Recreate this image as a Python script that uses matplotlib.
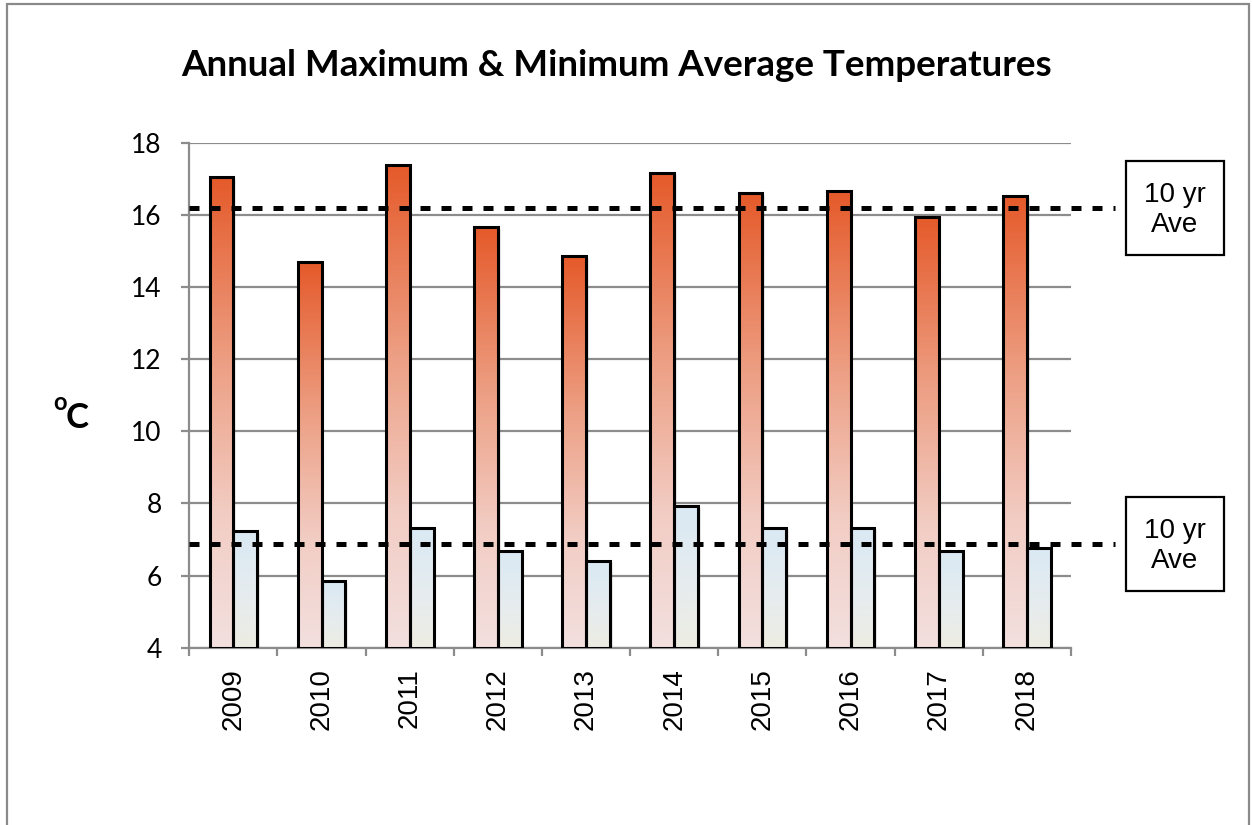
import numpy as np
import matplotlib
matplotlib.use("Agg")
import matplotlib.pyplot as plt
from matplotlib.colors import LinearSegmentedColormap
from matplotlib.patches import Rectangle

# data
years = ["2009", "2010", "2011", "2012", "2013", "2014", "2015", "2016", "2017", "2018"]
max_temp = [17.05, 14.7, 17.38, 15.65, 14.85, 17.15, 16.6, 16.67, 15.95, 16.52]
min_temp = [7.23, 5.84, 7.31, 6.69, 6.4, 7.93, 7.31, 7.31, 6.69, 6.76]
ave_max = 16.2
ave_min = 6.88
yticks = [4, 6, 8, 10, 12, 14, 16, 18]

W, H = 1252, 825
fig = plt.figure(figsize=(W / 100, H / 100), dpi=100)
ax = fig.add_axes([189.3 / W, 1 - 647.7 / H, (1071 - 189.3) / W, (647.7 - 142.7) / H])

# outer gray frame
fig.patches.append(Rectangle((7 / W, -0.05), (1249 - 7) / W, 1.05 - 4 / H,
                             transform=fig.transFigure, fill=False,
                             edgecolor="#8a8a8a", lw=1.6))

cmap_max = LinearSegmentedColormap.from_list(
    "mx", [(0, "#e55a2a"), (0.4, "#eda085"), (0.72, "#f2cdc4"), (1, "#f2e0df")])
cmap_min = LinearSegmentedColormap.from_list(
    "mn", [(0, "#dae9f4"), (0.55, "#e6ecef"), (1, "#edece2")])
grad = np.linspace(0, 1, 256).reshape(-1, 1)

x = np.arange(len(years))
bw = 0.27
bottom = yticks[0]

for xi, hi, lo in zip(x, max_temp, min_temp):
    for x0, h, cm in ((xi - bw, hi, cmap_max), (xi, lo, cmap_min)):
        # soft shadow
        ax.add_patch(Rectangle((x0 + 0.03, bottom), bw, h - bottom - 0.05,
                               facecolor="#000000", alpha=0.08, lw=0, zorder=2))
        # row 0 (darkest) at the top of the bar
        ax.imshow(grad, cmap=cm, extent=[x0, x0 + bw, bottom, h],
                  aspect="auto", zorder=3, interpolation="bilinear")
        ax.add_patch(Rectangle((x0, bottom), bw, h - bottom, fill=False,
                               edgecolor="black", lw=2.2, zorder=4))

ax.set_xlim(-0.5, len(years) - 0.5)
ax.set_ylim(yticks[0], yticks[-1])

# 10 year average lines + boxes
for ave in (ave_max, ave_min):
    ax.plot([-0.5, 10.0], [ave, ave], color="black", lw=3.6,
            dashes=(2.0, 2.2), clip_on=False, zorder=5, dash_capstyle="butt")
    ax.add_patch(Rectangle((10.12, ave - 1.3), 1.11, 2.6, fill=False,
                           edgecolor="black", lw=1.6, clip_on=False))
    ax.text(10.675, ave - 0.07, "10 yr\nAve", ha="center", va="center",
            fontsize=20, family="Liberation Sans", linespacing=1.2,
            clip_on=False)

# axes styling
ax.set_yticks(yticks)
ax.yaxis.grid(True, color="#8c8c8c", lw=1.6)
ax.set_axisbelow(True)
for s in ("top", "right"):
    ax.spines[s].set_visible(False)
for s in ("left", "bottom"):
    ax.spines[s].set_color("#8c8c8c")
    ax.spines[s].set_linewidth(1.6)

ax.set_xticks(x)
ax.set_xticklabels(years, rotation=90, family="Liberation Sans", fontsize=20)
ax.set_xticks(np.arange(-0.5, len(years)), minor=True)
ax.tick_params(axis="x", which="major", length=0, pad=15)
ax.tick_params(axis="x", which="minor", length=5.5, width=1.6, color="#8c8c8c")
ax.tick_params(axis="y", length=5.8, width=1.6, color="#8c8c8c", pad=14,
               labelsize=19)
for t in ax.get_yticklabels():
    t.set_family("Lato")

fig.text(617 / W, 1 - 76 / H, "Annual Maximum & Minimum Average Temperatures",
         ha="center", va="baseline", fontsize=26.5, fontweight="bold", family="Lato")

# y label  oC
fig.text(53 / W, 1 - 410 / H, "o", fontsize=17, fontweight="bold", family="Lato",
         va="baseline", ha="left")
fig.text(66 / W, 1 - 428 / H, "C", fontsize=25, fontweight="bold", family="Lato",
         va="baseline", ha="left")

fig.savefig("out.png", dpi=100)
